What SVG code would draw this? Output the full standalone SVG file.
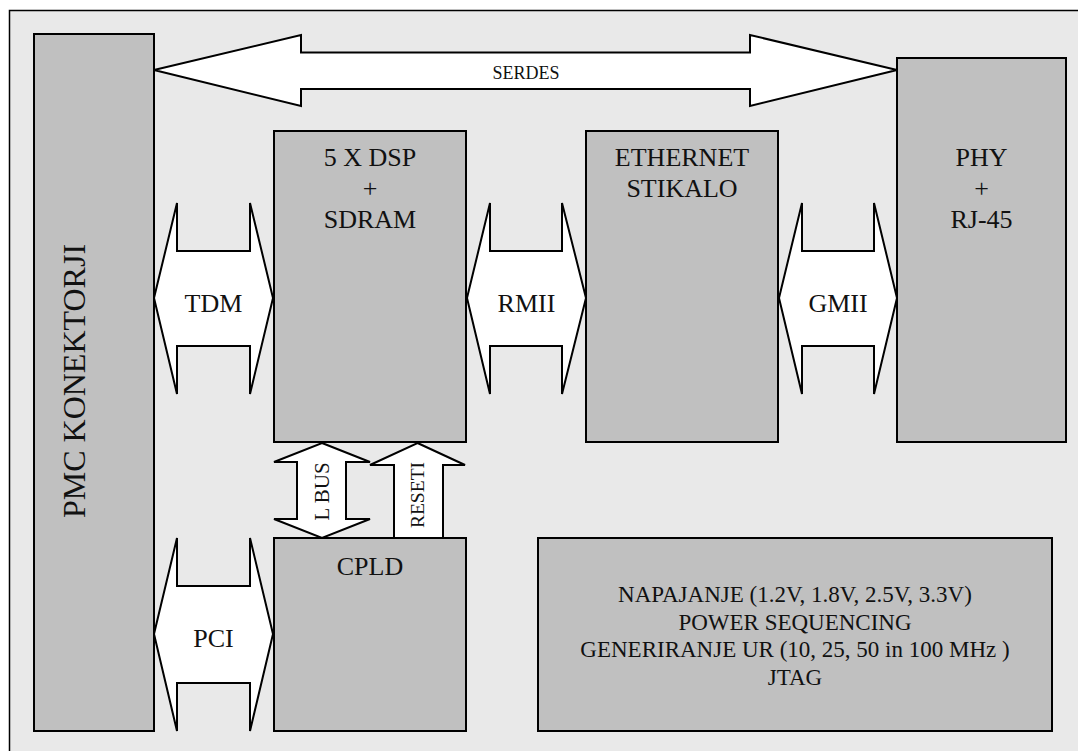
<svg xmlns="http://www.w3.org/2000/svg" width="1078" height="751" viewBox="0 0 1078 751" font-family="'Liberation Serif', serif">
<style>
.box{fill:#c0c0c0;stroke:#000;stroke-width:2}
.arr{fill:#fff;stroke:#000;stroke-width:2;stroke-linejoin:miter}
.lbl{font-family:'Liberation Serif',serif;fill:#111;text-anchor:middle}
</style>
<rect x="0" y="0" width="1078" height="751" fill="#fff"/>
<rect x="9.5" y="10.5" width="1100" height="800" fill="#e9e9e9" stroke="#000" stroke-width="1.5"/>
<g id="connectors">
  <g id="serdes">
    <polygon class="arr" points="154,70 301,35 301,52.5 750,52.5 750,35 897,70 750,106 750,89 301,89 301,106"/>
    <text class="lbl" x="526" y="79" font-size="18">SERDES</text>
  </g>
  <g id="tdm">
    <polygon class="arr" points="154,298 177,203 177,251 250,251 250,203 273,298 250,394 250,346 177,346 177,394"/>
    <text class="lbl" x="213.5" y="312" font-size="26">TDM</text>
  </g>
  <g id="rmii">
    <polygon class="arr" points="467,298 490,203 490,251 562,251 562,203 586,298 562,394 562,346 490,346 490,394"/>
    <text class="lbl" x="526.5" y="312" font-size="26">RMII</text>
  </g>
  <g id="gmii">
    <polygon class="arr" points="779,298 802,203 802,251 874,251 874,203 897,298 874,394 874,346 802,346 802,394"/>
    <text class="lbl" x="838" y="312" font-size="26">GMII</text>
  </g>
  <g id="pci">
    <polygon class="arr" points="154,634 177,538 177,586 250,586 250,538 273,634 250,731 250,683 177,683 177,731"/>
    <text class="lbl" x="213.5" y="647" font-size="26">PCI</text>
  </g>
  <g id="lbus">
    <polygon class="arr" points="322,443 370,462 346,462 346,519 370,519 322,538 274,519 297,519 297,462 274,462"/>
    <text class="lbl" x="329" y="491.5" font-size="21" transform="rotate(-90 329 491.5)">L BUS</text>
  </g>
  <g id="reseti">
    <polygon class="arr" points="417.5,443 465,465 443,465 443,538 394,538 394,465 370,465"/>
    <text class="lbl" x="424" y="495" font-size="19.5" transform="rotate(-90 424 495)">RESETI</text>
  </g>
</g>
<g id="pmc">
  <rect class="box" x="34" y="34" width="120" height="697"/>
  <text class="lbl" x="85" y="381" font-size="32" transform="rotate(-90 85 381)">PMC KONEKTORJI</text>
</g>
<g id="dsp">
  <rect class="box" x="274" y="131" width="192" height="311"/>
  <text class="lbl" x="370" y="166" font-size="26">5 X DSP</text>
  <text class="lbl" x="370" y="197" font-size="26">+</text>
  <text class="lbl" x="370" y="228" font-size="26">SDRAM</text>
</g>
<g id="ethernet">
  <rect class="box" x="586" y="131" width="192" height="311"/>
  <text class="lbl" x="682" y="166" font-size="26">ETHERNET</text>
  <text class="lbl" x="682" y="197" font-size="26">STIKALO</text>
</g>
<g id="phy">
  <rect class="box" x="897" y="58" width="169" height="384"/>
  <text class="lbl" x="981.5" y="166" font-size="26">PHY</text>
  <text class="lbl" x="981.5" y="197" font-size="26">+</text>
  <text class="lbl" x="981.5" y="228" font-size="26">RJ-45</text>
</g>
<g id="cpld">
  <rect class="box" x="274" y="538" width="192" height="193"/>
  <text class="lbl" x="370" y="575" font-size="26">CPLD</text>
</g>
<g id="power">
  <rect class="box" x="538" y="538" width="514" height="193"/>
  <text class="lbl" x="795" y="602" font-size="23">NAPAJANJE (1.2V, 1.8V, 2.5V, 3.3V)</text>
  <text class="lbl" x="795" y="630" font-size="23">POWER SEQUENCING</text>
  <text class="lbl" x="795" y="657" font-size="23">GENERIRANJE UR (10, 25, 50 in 100 MHz )</text>
  <text class="lbl" x="795" y="685" font-size="23">JTAG</text>
</g>
</svg>
